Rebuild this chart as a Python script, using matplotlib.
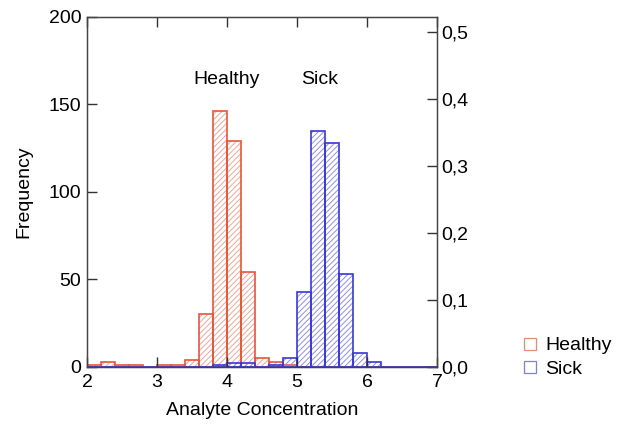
import matplotlib
matplotlib.use("Agg")
from matplotlib import pyplot as plt
from matplotlib.lines import Line2D
import numpy as np

plt.rcParams['font.family'] = ['Liberation Sans', 'DejaVu Sans']
plt.rcParams['hatch.linewidth'] = 0.7

# Datos
# ========================================
bin_start = 2.0
bin_width = 0.2
# Frecuencias por intervalo (2.0-2.2, 2.2-2.4, ..., 6.8-7.0)
healthy = [1, 3, 1, 1, 0, 1, 1, 4, 30, 146, 129, 54, 5, 3, 1,
           0, 0, 0, 0, 0, 0, 0, 0, 0, 0]
sick = [0, 0, 0, 0, 0, 0, 0, 0, 0, 1, 2, 2, 0, 1, 5,
        43, 135, 128, 53, 8, 3, 0, 0, 0, 0]
labels = ["Healthy", "Sick"]
x_ticks = [2, 3, 4, 5, 6, 7]
y_ticks = [0, 50, 100, 150, 200]
y2_ticks = [0.0, 0.1, 0.2, 0.3, 0.4, 0.5]

edge_colors = ["#e8553a", "#3838d8"]
hatch_colors = ["#eea898", "#9090e4"]
legend_colors = ["#e88a78", "#7f7fe0"]
fs = 14

# Figura
# ========================================
fig = plt.figure(figsize=(6.19, 4.24), dpi=100)
ax = fig.add_axes([0.1405, 0.1345, 0.5655, 0.8255])

lefts = bin_start + bin_width * np.arange(len(healthy))
for counts, ec, hc in zip([healthy, sick], edge_colors, hatch_colors):
    ax.bar(lefts, counts, width=bin_width, align="edge", facecolor="none",
           edgecolor=hc, linewidth=0, hatch="//////")
    ax.bar(lefts, counts, width=bin_width, align="edge", facecolor="none",
           edgecolor=ec, linewidth=1.2)

ax.set_xlim(2, 7)
ax.set_ylim(0, 200)
ax.set_xticks(x_ticks)
ax.set_yticks(y_ticks)
ax.tick_params(direction="in", length=7, width=1, labelsize=fs,
               top=True, right=False, color="#333333")
ax.tick_params(axis="x", pad=5)
ax.tick_params(axis="y", pad=4)
for s in ax.spines.values():
    s.set_color("#444444")
    s.set_linewidth(1)

ax.set_xlabel("Analyte Concentration", fontsize=fs, labelpad=8)
ax.set_ylabel("Frequency", fontsize=fs, labelpad=12)

ax.text(4.0, 164, labels[0], ha="center", va="center", fontsize=fs)
ax.text(5.33, 164, labels[1], ha="center", va="center", fontsize=fs)

# Eje derecho
ax2 = ax.twinx()
ax2.set_ylim(0, 200 / 383)
ax2.set_yticks(y2_ticks)
ax2.set_yticklabels(["{:.1f}".format(v).replace(".", ",") for v in y2_ticks])
ax2.tick_params(direction="in", length=7, width=1, labelsize=fs,
                color="#333333", pad=3)
for s in ax2.spines.values():
    s.set_color("#444444")

# Leyenda
handles = [Line2D([], [], linestyle="none", marker="s", markersize=8,
                  markerfacecolor="none", markeredgecolor=c, markeredgewidth=0.9)
           for c in legend_colors]
fig.legend(handles, labels, loc="upper left", bbox_to_anchor=(0.812, 0.247),
           frameon=False, fontsize=fs, handletextpad=0.3, labelspacing=0.32,
           handlelength=1.0)

fig.savefig("out.png", dpi=100)
